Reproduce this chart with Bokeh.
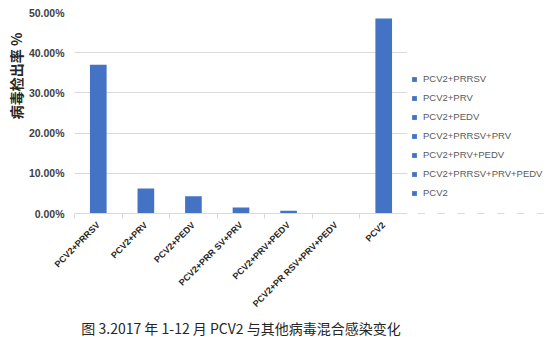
from bokeh.plotting import figure
from bokeh.layouts import row
from bokeh.models import (Range1d, Legend, LegendItem, Title,
                          NumeralTickFormatter, LinearAxis, FixedTicker, ColumnDataSource)
from bokeh.embed import file_html
from bokeh.resources import INLINE
import math

categories = ["PCV2+PRRSV", "PCV2+PRV", "PCV2+PEDV", "PCV2+PRRSV+PRV",
              "PCV2+PRV+PEDV", "PCV2+PRRSV+PRV+PEDV", "PCV2"]
x_labels = ["PCV2+PRRSV", "PCV2+PRV", "PCV2+PEDV", "PCV2+PRR SV+PRV",
            "PCV2+PRV+PEDV", "PCV2+PR RSV+PRV+PEDV", "PCV2"]
rates = [0.370, 0.062, 0.043, 0.015, 0.007, 0.0, 0.485]
y_ticks = [0.0, 0.1, 0.2, 0.3, 0.4, 0.5]
y_title = "病毒检出率 %"
caption = "图 3.2017 年 1-12 月 PCV2 与其他病毒混合感染变化"

BAR = "#4472C4"
GRID = "#d9d9d9"

n = len(categories)
centers = [i + 0.5 for i in range(n)]
bounds = list(range(n + 1))

p = figure(width=407, height=337, output_backend="svg", toolbar_location=None,
           x_range=Range1d(0, n), y_range=Range1d(0, 0.5), x_axis_location=None,
           min_border_left=74, min_border_right=0, min_border_top=12,
           min_border_bottom=124)
p.outline_line_color = None
p.background_fill_color = "white"
p.border_fill_color = "white"

src = ColumnDataSource(dict(x=centers, top=rates, cat=categories))
r = p.vbar(x="x", top="top", width=0.35, source=src, fill_color=BAR, line_color=None)

# y axis
ya = p.yaxis[0]
ya.ticker = FixedTicker(ticks=y_ticks)
ya.formatter = NumeralTickFormatter(format="0.00%")
ya.axis_line_color = None
ya.major_tick_line_color = None
ya.major_tick_out = 0
ya.major_tick_in = 0
ya.minor_tick_line_color = None
ya.major_label_text_font = "Liberation Sans"
ya.major_label_text_font_style = "bold"
ya.major_label_text_font_size = "10.5px"
ya.major_label_text_color = "#404040"
ya.major_label_standoff = 10

p.ygrid.ticker = FixedTicker(ticks=y_ticks)
p.ygrid.grid_line_color = GRID
p.xgrid.grid_line_color = None

# x axis: labels at category centers, small ticks at category boundaries
x_axis = LinearAxis(ticker=FixedTicker(ticks=centers, minor_ticks=bounds),
                    major_label_overrides={c: lab for c, lab in zip(centers, x_labels)},
                    axis_line_color=GRID, major_tick_line_color=None,
                    major_tick_in=0, major_tick_out=0,
                    minor_tick_line_color=GRID, minor_tick_in=0, minor_tick_out=5,
                    major_label_orientation=math.pi / 4,
                    major_label_text_font="Liberation Sans",
                    major_label_text_font_style="bold",
                    major_label_text_font_size="9px",
                    major_label_text_color="#262626",
                    major_label_standoff=5)
p.add_layout(x_axis, "below")

# y title
p.add_layout(Title(text=y_title, align="right", offset=20, standoff=0,
                   text_font="Noto Sans CJK SC", text_font_style="bold",
                   text_font_size="14px", text_color="#262626"), "left")

# caption
p.add_layout(Title(text=caption, align="center", standoff=0,
                   text_font="Noto Sans CJK SC", text_font_style="normal",
                   text_font_size="14px", text_color="#262626"), "below")

# legend panel (bars of this figure sit outside its visible range)
lf = figure(width=143, height=337, output_backend="svg", toolbar_location=None,
            x_range=Range1d(0, n), y_range=Range1d(10, 11),
            x_axis_location=None, y_axis_location=None,
            min_border_left=4, min_border_top=12, min_border_right=0,
            min_border_bottom=0)
lf.outline_line_color = None
lf.grid.visible = False
lr = lf.vbar(x="x", top="top", width=0.35, source=src, fill_color=BAR, line_color=None)
items = [LegendItem(label=c, renderers=[lr], index=i) for i, c in enumerate(categories)]
legend = Legend(items=items, location=(0, 14), orientation="vertical",
                glyph_width=6, glyph_height=6, label_height=13, spacing=6,
                label_standoff=6, padding=0, margin=0,
                label_text_font="Liberation Sans", label_text_font_size="9.5px",
                label_text_color="#595959", background_fill_alpha=0,
                border_line_color=None)
lf.add_layout(legend, "center")

layout = row(p, lf)
open("out.html", "w").write(file_html(layout, INLINE))
